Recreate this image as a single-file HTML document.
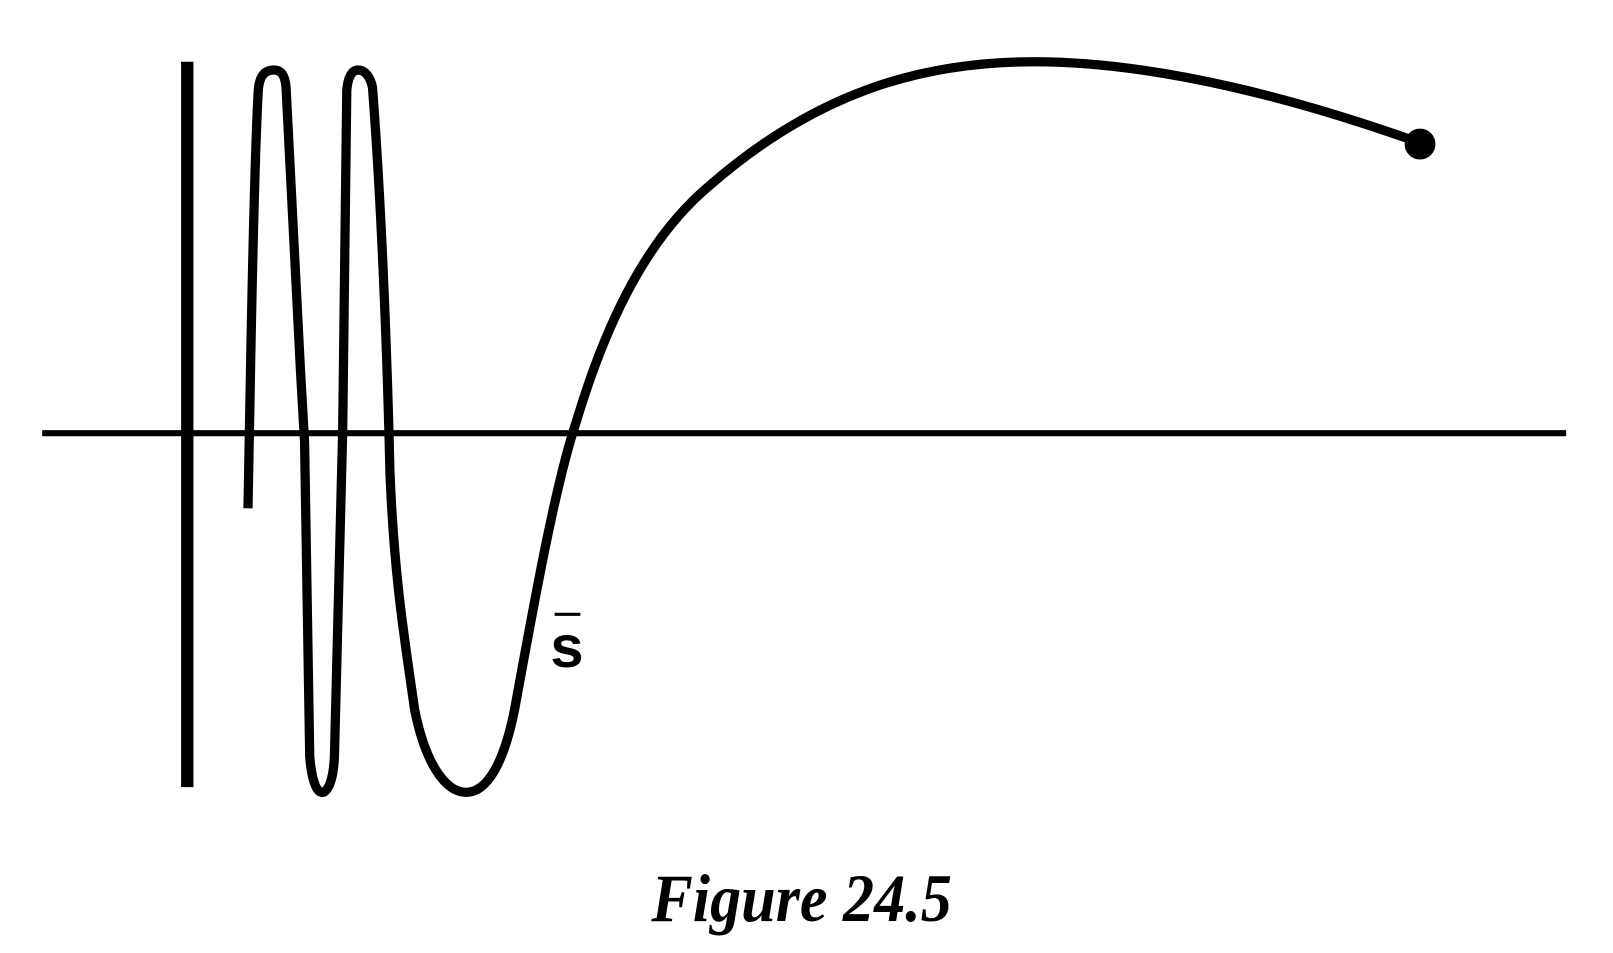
<!DOCTYPE html>
<html><head><meta charset="utf-8"><style>html,body{margin:0;padding:0;background:#fff;}svg{display:block}
.cap{font-family:"Liberation Serif","Times New Roman",serif;font-weight:bold;font-style:italic;font-size:66px;}
.lab{font-family:"Liberation Sans",Arial,sans-serif;font-weight:bold;font-size:58px;}</style></head>
<body>
<svg width="1613" height="953" viewBox="0 0 1613 953">
<g transform="scale(1.029)">
<line x1="182" y1="60" x2="182" y2="765" stroke="#000" stroke-width="12"/>
<line x1="41" y1="421" x2="1522" y2="421" stroke="#000" stroke-width="6"/>
<path fill="none" stroke="#000" stroke-width="9" stroke-linejoin="round"
d="M241,494 L244,330 C246,230 248,140 251,88 C252,74 257,68 266,68 C274,68 277,74 278,85 L292,360 L296,430 L301,735 C303,760 308,770 313,770 C318,770 324,760 325,735 L333,420 L337,88 C338,75 342,68 348,68 C355,68 360,75 362,85 C370,190 376,330 379,460 C383,560 393,620 403,690 C413,740 432,770 453,770 C474,770 490,740 500,690 C520,580 540,470 560,410 C590,310 630,230 690,180 C790,93 890,60 1005,60 C1130,60 1270,100 1372,136"/>
<circle cx="1380" cy="140" r="15" fill="#000"/>
<line x1="539" y1="597" x2="564" y2="597" stroke="#000" stroke-width="3"/>
<text x="551" y="648" text-anchor="middle" class="lab">s</text>
<text x="633" y="895" class="cap" textLength="292" lengthAdjust="spacingAndGlyphs">Figure 24.5</text>
</g>
</svg>
</body></html>
